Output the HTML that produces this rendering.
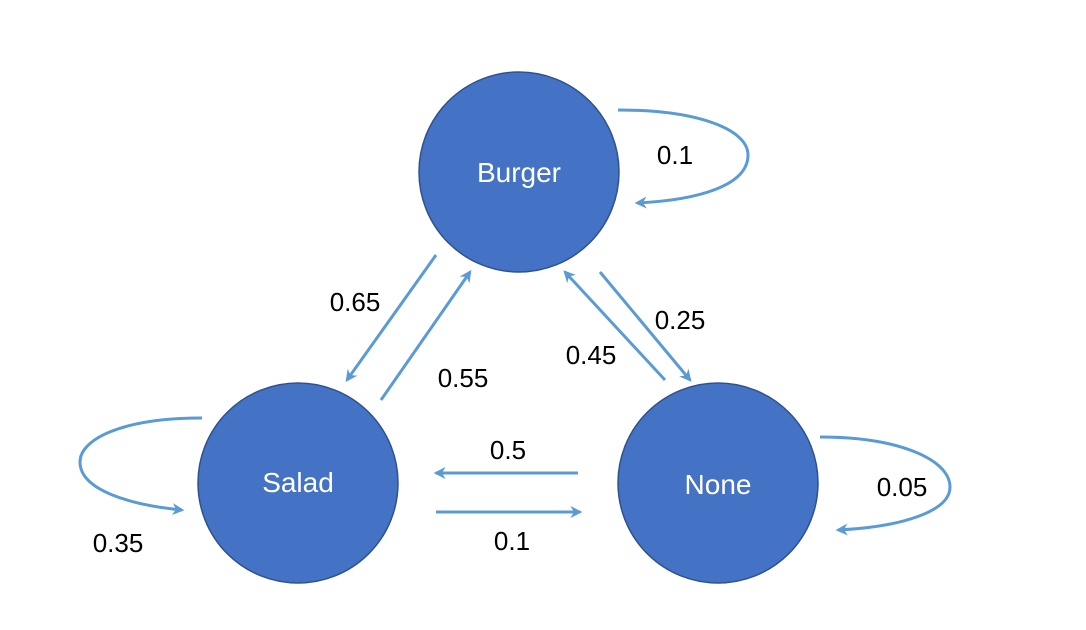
<!DOCTYPE html>
<html><head><style>
html,body{margin:0;padding:0;background:#fff;width:1086px;height:630px;overflow:hidden}
</style></head><body>
<svg width="1086" height="630" viewBox="0 0 1086 630" xmlns="http://www.w3.org/2000/svg">
<defs>
<marker id="a" viewBox="0 0 10 10" refX="8" refY="5" markerWidth="4" markerHeight="4" orient="auto" markerUnits="strokeWidth">
<path d="M0,0 L10,5 L0,10 L3,5 z" fill="#5b9bd5"/></marker>
</defs>
<g fill="#4472c4" stroke="#2f528f" stroke-width="1.5">
<circle cx="519" cy="172" r="100"/>
<circle cx="298" cy="483" r="100"/>
<circle cx="718" cy="483" r="100"/>
</g>
<g fill="none" stroke="#5b9bd5" stroke-width="3" marker-end="url(#a)">
<path d="M618,110 C700,110 748,130 748,155 C748,185 700,200 637,203"/>
<path d="M202,418 C120,418 80,440 80,462 C80,490 130,505 182,510"/>
<path d="M820,437 C900,437 950,460 950,487 C950,512 900,527 838,530"/>
<line x1="436" y1="255" x2="347" y2="380"/>
<line x1="381" y1="400" x2="470" y2="272"/>
<line x1="600" y1="272" x2="690" y2="380"/>
<line x1="665" y1="380" x2="565" y2="272"/>
<line x1="578" y1="473" x2="436" y2="473"/>
<line x1="436" y1="512" x2="580" y2="512"/>
</g>
<g font-family="Liberation Sans, sans-serif" font-size="28" fill="#fff" text-anchor="middle">
<text x="519" y="182">Burger</text>
<text x="298" y="492">Salad</text>
<text x="718" y="494">None</text>
</g>
<g font-family="Liberation Sans, sans-serif" font-size="26" fill="#000" text-anchor="middle">
<text x="675" y="164">0.1</text>
<text x="355" y="311">0.65</text>
<text x="463" y="387">0.55</text>
<text x="591" y="364">0.45</text>
<text x="680" y="329">0.25</text>
<text x="508" y="459">0.5</text>
<text x="512" y="550">0.1</text>
<text x="118" y="552">0.35</text>
<text x="902" y="496">0.05</text>
</g>
</svg>
</body></html>
